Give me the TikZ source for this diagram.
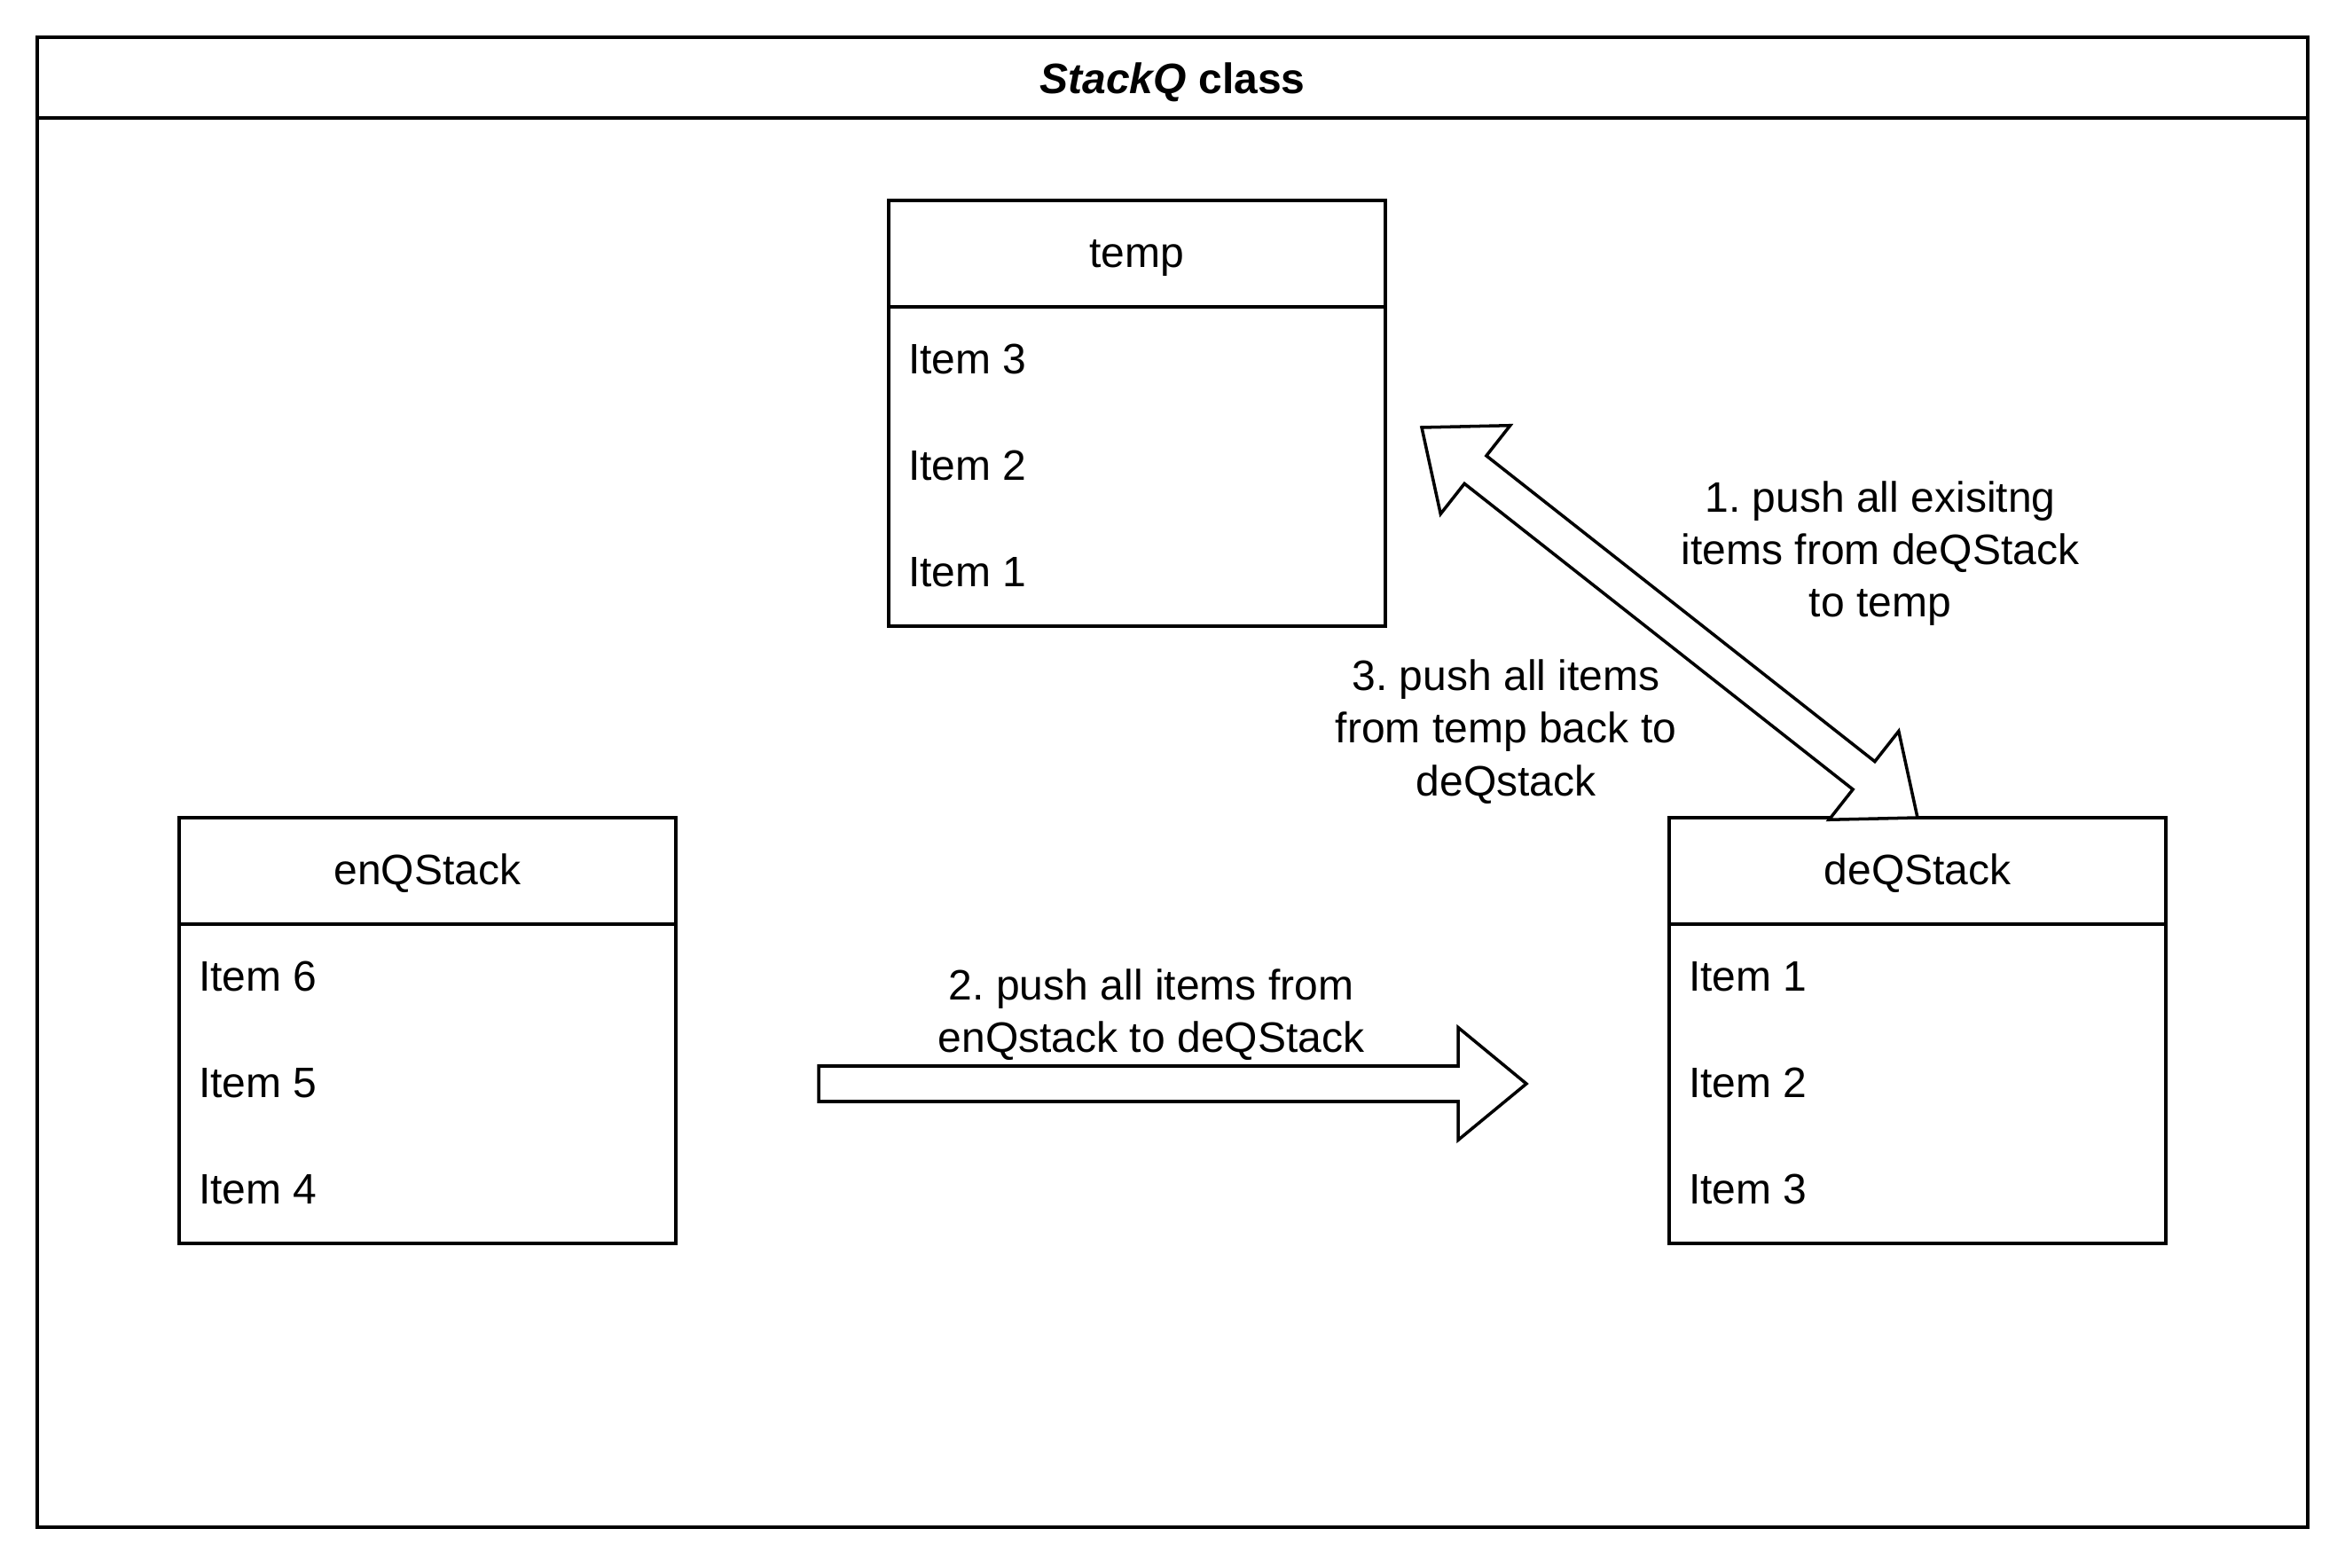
\documentclass[tikz,border=0pt]{standalone}
\usepackage{fontspec}
\setmainfont{Liberation Sans}
\usetikzlibrary{calc,positioning}

\newcommand{\shaftw}{0.2cm}
\newcommand{\headw}{0.635cm}
\newcommand{\headl}{0.77cm}

\begin{document}
\frenchspacing
\begin{tikzpicture}[x=1cm,y=-1cm,line width=1pt,
    every node/.style={font=\fontsize{13.66}{16.9}\selectfont,inner sep=0pt,outer sep=0pt},
    stackbox/.style={draw,rectangle,minimum width=5.6cm,minimum height=4.8cm},
    entry/.style={anchor=west,text height=0.88em,text depth=0pt},
    head/.style={text height=0.88em,text depth=0pt},
    note/.style={align=center},
    blockarrow/.style={draw,fill=white,line join=miter}]
    \useasboundingbox (0,0) rectangle (26.44,17.68);
    \node (frame) at (13.22,8.82) [draw,minimum width=25.6cm,minimum height=16.8cm]{};
    \draw ($(frame.north west)+(0,0.91)$) -- ($(frame.north east)+(0,0.91)$);
    \node (title) at ($(frame.north)+(0,0.48)$) [head]{\bfseries\itshape StackQ\/\upshape\ class};
    \node (temp) at (12.82,4.66) [stackbox]{};
    \node (enq) at (4.82,11.62) [stackbox]{};
    \node (deq) at (21.62,11.62) [stackbox]{};
    \foreach \s/\name/\a/\b/\c in {temp/temp/3/2/1, enq/enQStack/6/5/4, deq/deQStack/1/2/3}{
      \draw ($(\s.north west)+(0,1.2)$) -- ($(\s.north east)+(0,1.2)$);
      \node (\s-h) at ($(\s.north)+(0,0.6)$) [head]{\name};
      \node (\s-1) at ($(\s.north west)+(0.22,1.8)$) [entry]{Item \a};
      \node (\s-2) at ($(\s.north west)+(0.22,3.0)$) [entry]{Item \b};
      \node (\s-3) at ($(\s.north west)+(0.22,4.2)$) [entry]{Item \c};
    }
    \coordinate (h0) at ($(enq.east)+(1.61,0.6)$);
    \coordinate (h1) at ($(deq.west)+(-1.61,0.6)$);
    \coordinate (h1c) at ($(h1)!\headl!(h0)$);
    \draw[blockarrow] ($(h0)!\shaftw!90:(h1)$) -- ($(h1c)!\shaftw!90:(h1)$) -- ($(h1c)!\headw!90:(h1)$) -- (h1)
      -- ($(h1c)!\headw!-90:(h1)$) -- ($(h1c)!\shaftw!-90:(h1)$) -- ($(h0)!\shaftw!-90:(h1)$) -- cycle;
    \coordinate (d0) at ($(temp.east)+(0.41,0.16)$);
    \coordinate (d1) at (deq.north);
    \coordinate (d0c) at ($(d0)!\headl!(d1)$);
    \coordinate (d1c) at ($(d1)!\headl!(d0)$);
    \draw[blockarrow] (d0) -- ($(d0c)!\headw!90:(d1)$) -- ($(d0c)!\shaftw!90:(d1)$) -- ($(d1c)!\shaftw!90:(d1)$)
      -- ($(d1c)!\headw!90:(d1)$) -- (d1) -- ($(d1c)!\headw!-90:(d1)$) -- ($(d1c)!\shaftw!-90:(d1)$)
      -- ($(d0c)!\shaftw!-90:(d1)$) -- ($(d0c)!\headw!-90:(d1)$) -- cycle;
    \node (n1) at (21.20,6.24) [note]{1. push all exisitng\\items from deQStack\\to temp};
    \node (n3) at (16.98,8.25) [note]{3. push all items\\from temp back to\\deQstack};
    \node (n2) at (12.98,11.44) [note]{2. push all items from\\enQstack to deQStack};
  \end{tikzpicture}
\end{document}
